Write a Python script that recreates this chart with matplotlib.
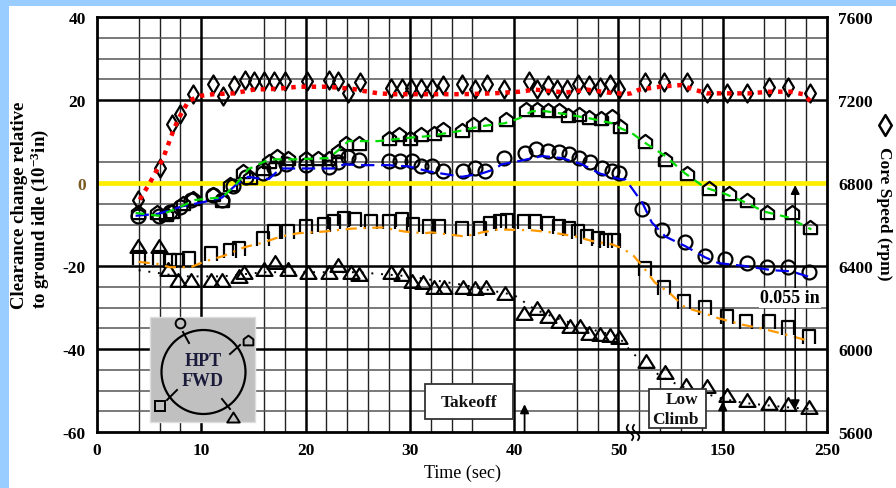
import numpy as np
import matplotlib
matplotlib.use('Agg')
import matplotlib.pyplot as plt
from matplotlib.path import Path
from matplotlib.patches import Rectangle, Ellipse
from matplotlib.lines import Line2D

plt.rcParams['font.family'] = ['Liberation Serif', 'DejaVu Serif']
plt.rcParams['font.weight'] = 'bold'
plt.rcParams['mathtext.fontset'] = 'custom'
plt.rcParams['mathtext.rm'] = 'Liberation Serif:bold'
plt.rcParams['mathtext.it'] = 'Liberation Serif:bold'
plt.rcParams['mathtext.bf'] = 'Liberation Serif:bold'
plt.rcParams['axes.grid'] = False

# ---------------- data (time in s, clearance in 1e-3 in, speed in rpm) ----------------
spd_t = [3.9, 6.0, 7.2, 8.0, 9.2, 11.1, 12.1, 13.1, 14.2, 15.1, 16.0, 17.0, 18.0, 20.1, 22.2,
         23.1, 24.1, 25.2, 28.2, 29.2, 30.1, 31.1, 32.1, 33.2, 35.0, 36.2, 37.4, 39.0, 41.4, 42.2,
         43.2, 44.1, 45.1, 46.1, 47.2, 48.2, 49.2, 50.1, 75, 94, 116, 135, 154, 173, 194, 213, 234]
spd_rpm = [6718, 6870, 7084, 7132, 7228, 7276, 7218, 7272, 7296, 7292, 7292, 7292, 7292, 7292, 7296,
           7290, 7236, 7286, 7260, 7260, 7258, 7258, 7260, 7272, 7276, 7252, 7276, 7252, 7292, 7252,
           7274, 7252, 7254, 7276, 7274, 7262, 7276, 7254, 7286, 7286, 7286, 7232, 7232, 7232, 7264, 7264, 7232]
spd_fit_t = [4.1, 5.1, 6.3, 6.7, 7.2, 7.7, 8.2, 8.8, 9.9, 11.2, 13.1, 15.0, 17.3, 19.3, 22.0,
             24.5, 25.5, 27.0, 28.5, 32.0, 35.0, 38.0, 40.5, 42.0, 45.0, 47.0, 49.0, 50.5, 56, 62,
             70, 90, 110, 120, 135, 155, 175, 195, 215, 227, 235]
spd_fit_rpm = [6720, 6804, 6914, 6968, 7036, 7098, 7146, 7196, 7220, 7228, 7232, 7250, 7254, 7264, 7264,
               7254, 7244, 7232, 7228, 7228, 7228, 7232, 7240, 7250, 7236, 7250, 7236, 7232, 7228, 7232,
               7250, 7264, 7272, 7254, 7232, 7232, 7232, 7240, 7240, 7228, 7190]

pent_t = [3.95, 5.8, 6.6, 7.2, 8.2, 9.2, 11.1, 12.0, 12.8, 14.0, 14.7, 15.9, 16.5, 17.3, 18.3, 20.0,
          21.2, 22.2, 23.1, 23.9, 25.1, 28.0, 29.0, 30.0, 31.1, 32.3, 33.2, 35.0, 36.1, 37.2, 39.2,
          41.1, 42.2, 43.2, 44.3, 45.2, 46.2, 47.2, 48.3, 49.4, 51.5, 75, 95, 116, 137, 156, 173, 192, 216, 234]
pent_v = [-6.9, -6.9, -7.4, -6.7, -4.8, -3.7, -2.6, -4.1, -0.2, 2.8, 1.5, 3.5, 5.2, 6.5, 6.0, 6.0,
          6.0, 6.0, 7.7, 9.6, 9.6, 10.8, 11.8, 10.8, 11.8, 12.0, 13.0, 12.7, 14.2, 14.2, 15.4,
          17.8, 17.8, 17.6, 17.6, 16.4, 16.6, 15.9, 15.6, 16.1, 13.7, 10.1, 5.7, 2.3, -1.1, -2.4, -4.1, -7.1, -7.1, -10.7]
pent_fit_t = [3.7, 5.9, 7.5, 9.4, 10.9, 12.0, 13.3, 14.5, 16.5, 18.9, 22.2, 23.4, 24.1, 27.0, 29.5,
              31.8, 33.0, 34.7, 36.9, 39.1, 40.5, 41.7, 43.0, 44.9, 47.2, 49.4, 52, 63, 76, 95,
              114, 133, 152, 171, 190, 213, 235]
pent_fit_v = [-7.2, -7.9, -6.3, -4.1, -3.7, -3.5, -0.4, 3.3, 5.7, 5.7, 6.0, 8.4, 10.1, 10.1, 10.8,
              11.3, 11.8, 12.5, 13.7, 14.4, 15.6, 17.3, 17.3, 16.6, 15.6, 14.4, 13.2, 12.0, 9.6, 6.5,
              2.3, -1.1, -2.6, -4.6, -6.9, -8.3, -11.2]

circ_t = [3.95, 5.9, 7.0, 8.0, 9.0, 11.1, 12.0, 13.0, 14.3, 15.9, 17.0, 18.1, 20.0, 22.2, 23.1,
          24.1, 25.1, 28.0, 29.1, 30.2, 31.1, 32.1, 33.2, 35.1, 36.2, 37.2, 39.0, 41.0, 42.1, 43.2,
          44.3, 45.3, 46.2, 47.3, 48.4, 49.4, 50.5, 73, 92, 114, 133, 152, 173, 192, 213, 233]
circ_v = [-7.9, -7.9, -7.1, -5.9, -4.1, -3.0, -4.1, -0.7, 1.5, 2.3, 3.5, 4.5, 4.3, 3.8, 5.0,
          6.2, 5.5, 5.3, 5.3, 5.3, 4.0, 4.0, 2.8, 2.8, 3.5, 3.0, 6.0, 7.2, 8.1, 7.7,
          7.4, 6.9, 6.0, 5.0, 3.5, 2.8, 2.3, -6.3, -11.4, -14.3, -17.6, -18.3, -19.3, -20.3, -20.3, -21.5]
circ_fit_t = [3.7, 5.9, 8.2, 10.4, 12.0, 13.3, 14.5, 15.7, 16.5, 17.6, 19.8, 22.7, 23.7, 25.3, 27.9,
              29.9, 31.8, 33.0, 35.0, 36.9, 38.1, 38.8, 40.5, 42.7, 44.6, 46.5, 48.2, 50.1, 57, 63,
              73, 82, 95, 114, 133, 146, 171, 197, 216, 235]
circ_fit_v = [-7.9, -7.4, -5.6, -4.5, -3.5, -0.5, 1.5, 1.0, 1.0, 3.5, 3.5, 3.5, 4.5, 4.3, 4.3,
              4.0, 2.8, 2.3, 1.5, 2.3, 3.3, 4.5, 5.3, 6.5, 6.0, 4.5, 2.3, 1.0, 0.8, -1.3,
              -4.8, -9.5, -12.9, -15.2, -17.9, -19.3, -20.0, -21.0, -21.3, -22.8]

sq_t = [4.0, 5.9, 7.0, 7.8, 8.8, 10.9, 12.8, 13.6, 15.9, 17.0, 18.3, 20.0, 21.8, 22.7, 23.7,
        24.7, 26.3, 28.0, 29.2, 30.3, 31.8, 32.8, 35.0, 36.7, 37.7, 38.6, 39.3, 40.9, 42.0, 43.2,
        44.3, 45.3, 46.1, 47.0, 48.0, 48.8, 49.6, 75, 94, 113, 133, 154, 172, 194, 213, 233]
sq_v = [-18.1, -18.1, -18.8, -18.8, -18.3, -17.1, -16.4, -16.0, -13.6, -11.9, -11.9, -10.7, -10.2, -9.3, -8.7,
        -8.9, -9.3, -9.3, -8.9, -10.2, -10.5, -10.5, -11.0, -11.2, -9.8, -9.3, -9.1, -9.3, -9.3, -9.8,
        -10.7, -11.2, -11.9, -13.1, -13.6, -14.0, -14.0, -20.8, -25.3, -28.6, -30.0, -32.4, -33.6, -33.6, -35.0, -37.0]
sq_fit_t = [4.0, 5.8, 7.0, 9.0, 10.2, 12.1, 14.1, 16.0, 17.6, 19.3, 21.8, 24.4, 27.3, 29.5, 31.4,
            32.1, 35.3, 36.9, 38.5, 41.7, 43.6, 45.9, 47.5, 49.4, 51, 63, 73, 85, 99, 114,
            130, 146, 168, 190, 213, 232]
sq_fit_v = [-19.0, -19.5, -20.3, -20.3, -19.0, -17.6, -15.5, -14.3, -12.9, -12.1, -11.7, -11.0, -10.7, -11.7, -12.1,
            -11.9, -12.9, -11.9, -11.2, -11.4, -11.9, -12.9, -14.0, -14.8, -15.5, -17.1, -20.0, -24.0, -26.5, -30.0,
            -31.2, -32.6, -34.1, -35.2, -36.7, -38.0]

tri_t = [3.95, 5.9, 6.8, 7.8, 9.0, 10.9, 12.0, 13.6, 14.1, 16.0, 17.1, 18.3, 20.2, 22.2, 23.1,
         24.4, 25.1, 28.2, 29.2, 30.2, 31.3, 32.3, 33.3, 35.1, 36.2, 37.3, 39.1, 40.9, 42.2, 43.2,
         44.3, 45.4, 46.3, 47.2, 48.2, 49.2, 50.5, 76, 95, 115, 135, 154, 173, 194, 213, 233]
tri_v = [-15.2, -15.2, -20.8, -23.3, -23.3, -23.3, -23.3, -22.5, -21.5, -20.8, -19.0, -20.8, -21.5, -21.5, -19.8,
         -21.5, -22.0, -21.5, -22.0, -23.5, -23.8, -25.0, -25.0, -25.0, -25.3, -25.0, -26.5, -31.3, -30.0, -32.0,
         -33.3, -34.5, -34.5, -36.1, -36.5, -36.7, -37.2, -42.9, -45.5, -48.6, -48.8, -51.2, -52.4, -53.1, -53.3, -54.0]
tri_fit_t = [4, 8, 12, 16, 20, 25, 30, 35, 40, 42, 44, 47, 50, 60, 70, 90, 110, 130, 150, 170, 190, 210, 235]
tri_fit_v = [-21, -22.5, -22.5, -21.5, -21.5, -21.5, -22.5, -24.5, -27, -30.5, -32.5, -35, -37,
             -40, -42.5, -46.5, -49, -50.5, -52, -53, -53.5, -54, -54.5]

x_ticks = [0, 10, 20, 30, 40, 50, 150, 250]
x_ticklabels = ['0', '10', '20', '30', '40', '50', '150', '250']
x_major_grid = [10, 20, 30, 40, 50, 150]
x_minor = [4, 6, 8, 16, 18, 22, 24, 26, 28, 32, 34, 36, 46, 48, 70, 90, 110, 130, 190, 210, 230]
y_ticks = [40, 20, 0, -20, -40, -60]
y_ticklabels = ['40', '20', '0', '-20', '-40', '-60']
y_major_grid = [20, 0, -20, -40]
y_minor = [35, 30, 25, 5, -5, -10, -25, -30, -35, -45, -50, -55]
rpm_ticks = [5600, 6000, 6400, 6800, 7200, 7600]

# ---------------- figure ----------------
W, H = 896, 489
fig = plt.figure(figsize=(W / 100, H / 100), dpi=100)
fig.patch.set_facecolor('#99CCFF')
fig.add_artist(Rectangle((9 / W, 0), 1 - 9 / W, 1 - 7 / H, transform=fig.transFigure,
                         facecolor='white', edgecolor='none', zorder=-5))


def fx(x):
    return np.asarray(x) / W


def fy(y):
    return 1 - np.asarray(y) / H


ax = fig.add_axes([fx(97), fy(433), (827 - 97) / W, (433 - 18) / H])


def fwd(t):
    t = np.asarray(t, dtype=float)
    return np.where(t <= 50, t, 50 + (t - 50) / 10.0)


def inv(p):
    p = np.asarray(p, dtype=float)
    return np.where(p <= 50, p, 50 + (p - 50) * 10.0)


ax.set_xscale('function', functions=(fwd, inv))
ax.set_xlim(0, 250)
ax.set_ylim(-60, 40)
ax.set_xticks(x_ticks, x_ticklabels)
ax.set_xticks([], minor=True)
ax.set_yticks(y_ticks, y_ticklabels)
ax.set_yticks([], minor=True)
ax.tick_params(which='both', length=0)
ax.tick_params(axis='x', labelsize=12.5, pad=7)
ax.tick_params(axis='y', labelsize=12.5, pad=8)
for lab in ax.get_yticklabels():
    if lab.get_text() == '0':
        lab.set_color('#7a5a20')

# explicit grid lines
for xv in x_minor:
    ax.axvline(xv, color='#222222', lw=1.0, zorder=0.5)
for yv in y_minor:
    ax.axhline(yv, color='#555555', lw=1.1, zorder=0.5)
for xv in x_major_grid:
    ax.axvline(xv, color='black', lw=1.8, zorder=0.6)
for yv in y_major_grid:
    ax.axhline(yv, color='black', lw=1.8, zorder=0.6)
for s in ax.spines.values():
    s.set_linewidth(2.0)
ax.axhline(0, color='#FFEE00', lw=3.4, zorder=1)

house = Path([(-1, -1), (1, -1), (1, 0.25), (0, 1), (-1, 0.25), (-1, -1)],
             [Path.MOVETO, Path.LINETO, Path.LINETO, Path.LINETO, Path.LINETO, Path.CLOSEPOLY])
cap = Path([(-0.85, -1), (-0.85, 1), (0.85, 1), (0.85, -1)],
           [Path.MOVETO, Path.LINETO, Path.LINETO, Path.LINETO])
tri = Path([(0, 0.8), (1, -0.8), (-1, -0.8), (0, 0.8)],
           [Path.MOVETO, Path.LINETO, Path.LINETO, Path.CLOSEPOLY])
dia = Path([(0, 1), (0.6, 0), (0, -1), (-0.6, 0), (0, 1)],
           [Path.MOVETO, Path.LINETO, Path.LINETO, Path.LINETO, Path.CLOSEPOLY])

mk = dict(linestyle='none', mfc='none', mec='black', mew=1.6, zorder=3)
ax.plot(tri_t, tri_v, marker=tri, ms=11.5, **mk)
ax.plot(sq_t, sq_v, marker=cap, ms=10, **mk)
ax.plot(circ_t, circ_v, marker='o', ms=10, **mk)
ax.plot(pent_t, pent_v, marker=house, ms=9.5, **mk)

ax.plot(tri_fit_t, tri_fit_v, color='black', lw=1.4, dashes=(1, 4), zorder=4)
ax.plot(sq_fit_t, sq_fit_v, color='#FF9900', lw=1.6, dashes=(5, 3, 1, 3), zorder=4)
ax.plot(circ_fit_t, circ_fit_v, color='#0000EE', lw=1.6, dashes=(6, 3), zorder=4)
ax.plot(pent_fit_t, pent_fit_v, color='#00DD00', lw=1.6, dashes=(4, 3), zorder=4)

ax2 = ax.twinx()
ax2.set_ylim(5600, 7600)
ax2.set_yticks(rpm_ticks, [str(v) for v in rpm_ticks])
ax2.set_yticks([], minor=True)
ax2.tick_params(length=0, labelsize=12.5, pad=8)
for s in ax2.spines.values():
    s.set_visible(False)
ax2.plot(spd_t, spd_rpm, marker=dia, ms=13, **mk)
ax2.plot(spd_fit_t, spd_fit_rpm, color='#FF0000', lw=3.2, dashes=(1, 1.3), zorder=4)

# axis labels
ax.set_xlabel('Time (sec)', fontsize=13, labelpad=4)
fig.text(fx(31), fy(205), 'Clearance change relative\nto ground idle (10$^{-3}$in)', rotation=90,
         ha='center', va='center', multialignment='left', fontsize=13.5, linespacing=1.05)
fig.text(fx(884), fy(214), 'Core Speed (rpm)', rotation=270, ha='center', va='center', fontsize=12.5)
fig.add_artist(Line2D([fx(885)], [fy(126)], transform=fig.transFigure, marker=dia, ms=15,
                      mfc='none', mec='black', mew=1.8, linestyle='none'))

# arrows / annotations
arr = dict(arrowstyle='-|>', color='black', lw=1.3, mutation_scale=13, shrinkA=0, shrinkB=0)
ax.annotate('', xy=(41.0, -53.3), xytext=(41.0, -60), arrowprops=arr, zorder=6)
ax.annotate('', xy=(150, -52.6), xytext=(150, -60), arrowprops=arr, zorder=6)
ax.annotate('', xy=(219.5, -0.5), xytext=(219.5, -54.5),
            arrowprops=dict(arrowstyle='<|-|>', color='black', lw=1.2, mutation_scale=13,
                            shrinkA=0, shrinkB=0), zorder=6)

fig.add_artist(Rectangle((fx(425), fy(420)), (513 - 425) / W, (420 - 385) / H, transform=fig.transFigure,
                         facecolor='white', edgecolor='#333333', lw=1.3, zorder=5))
fig.text(fx(469), fy(403), 'Takeoff', ha='center', va='center', fontsize=12.5, color='#111111', zorder=6)
fig.add_artist(Rectangle((fx(649), fy(429)), (706 - 649) / W, (429 - 390) / H, transform=fig.transFigure,
                         facecolor='white', edgecolor='#333333', lw=1.3, zorder=5))
fig.text(fx(682), fy(400), 'Low', ha='center', va='center', fontsize=12.5, color='#111111', zorder=6)
fig.text(fx(675), fy(420), 'Climb', ha='center', va='center', fontsize=12.5, color='#111111', zorder=6)
fig.text(fx(790), fy(299), '0.055 in', ha='center', va='center', fontsize=13, zorder=6,
         bbox=dict(facecolor='white', edgecolor='none', pad=1))

# axis break squiggles
s = np.linspace(0, 1, 30)
for x0 in (630, 636):
    xs = x0 + 2.2 * np.sin(2 * np.pi * s) - 4 * (s - 0.5)
    ys = 441 - 15 * s
    fig.add_artist(Line2D(fx(xs), fy(ys), transform=fig.transFigure, color='black', lw=1.3, zorder=6))

# HPT FWD inset
fig.add_artist(Rectangle((fx(150), fy(423)), 105 / W, 105 / H, transform=fig.transFigure,
                         facecolor='#C0C0C0', edgecolor='#DDDDDD', lw=1, zorder=5))
fig.add_artist(Ellipse((fx(203.5), fy(373)), 84 / W, 84 / H, transform=fig.transFigure,
                       facecolor='none', edgecolor='black', lw=1.6, zorder=6))
fig.text(fx(203), fy(361), 'HPT', ha='center', va='center', fontsize=13, color='#1a1a3a', zorder=7)
fig.text(fx(203), fy(382), 'FWD', ha='center', va='center', fontsize=13, color='#1a1a3a', zorder=7)
for (mx, my, m, ms, lx0, ly0, lx1, ly1) in [
        (180, 324, 'o', 7, 183, 333, 189, 344),
        (248, 341, house, 7, 240, 346, 230, 355),
        (160, 407, 's', 7, 167, 401, 177, 391),
        (233, 418, tri, 9, 222, 400, 230, 410)]:
    fig.add_artist(Line2D([fx(lx0), fx(lx1)], [fy(ly0), fy(ly1)], transform=fig.transFigure,
                          color='black', lw=1.4, zorder=7))
    fig.add_artist(Line2D([fx(mx)], [fy(my)], transform=fig.transFigure, marker=m, ms=ms,
                          mfc='none', mec='black', mew=1.4, linestyle='none', zorder=7))

fig.savefig('out.png', dpi=100, facecolor=fig.get_facecolor())
